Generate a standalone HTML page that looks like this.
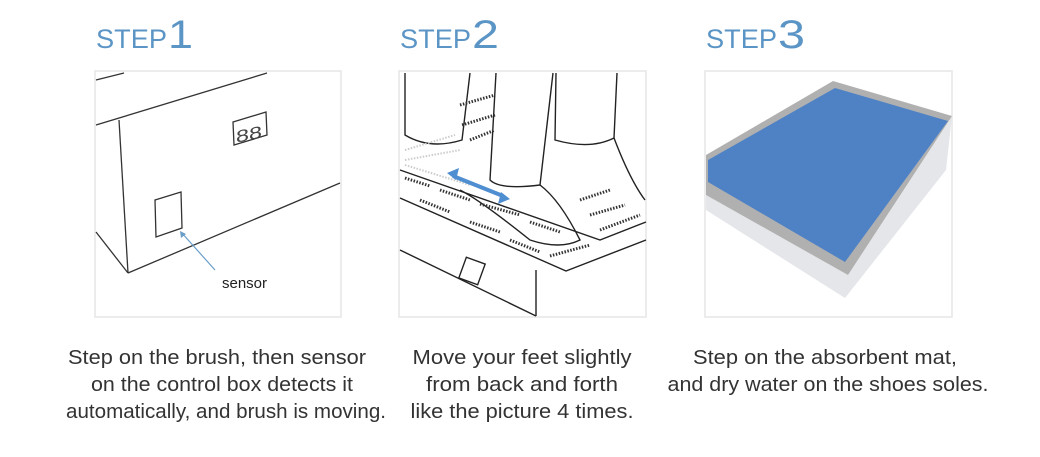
<!DOCTYPE html>
<html><head><meta charset="utf-8"><style>
html,body{margin:0;padding:0;background:#fff;}
svg{display:block}
text{font-family:"Liberation Sans",sans-serif;}
</style></head><body>
<svg width="1040" height="457" viewBox="0 0 1040 457" xmlns="http://www.w3.org/2000/svg">
<rect width="1040" height="457" fill="#fff"/>
<g fill="#5b95c6">
<text x="96" y="48" font-size="27" textLength="71" lengthAdjust="spacingAndGlyphs">STEP</text>
<text x="168" y="48" font-size="40" textLength="25" lengthAdjust="spacingAndGlyphs">1</text>
<text x="400" y="48" font-size="27" textLength="71" lengthAdjust="spacingAndGlyphs">STEP</text>
<text x="472" y="48" font-size="40" textLength="27" lengthAdjust="spacingAndGlyphs">2</text>
<text x="706" y="48" font-size="27" textLength="71" lengthAdjust="spacingAndGlyphs">STEP</text>
<text x="778" y="48" font-size="40" textLength="27" lengthAdjust="spacingAndGlyphs">3</text>
</g>
<g fill="none" stroke="#e6e6e6" stroke-width="1.5">
<rect x="95" y="71" width="246" height="246"/>
<rect x="399" y="71" width="247" height="246"/>
<rect x="705" y="71" width="247" height="246"/>
</g>
<!-- step1 -->
<g fill="none" stroke="#333" stroke-width="1.3">
<path d="M96 80 L124 73"/>
<path d="M96 125 L267 73"/>
<path d="M119 120 L128 273"/>
<path d="M128 273 L340 183"/>
<path d="M96 232 L128 273"/>
<path d="M233 122 L266 112 L267 135 L234 145 Z"/>
<path d="M155 200 L181 192 L182 228 L156 237 Z"/>
</g>
<text x="236" y="141" font-size="17" fill="#444" font-family="Liberation Mono,monospace" transform="skewY(-12) translate(0 52)" textLength="26" lengthAdjust="spacingAndGlyphs">88</text>
<path d="M181 232 L215 270" stroke="#6a9ec9" stroke-width="1.2"/>
<path d="M180 231 l1 7 l5 -4 z" fill="#6a9ec9"/>
<text x="222" y="288" font-size="15" fill="#222">sensor</text>
<!-- step2 -->
<g fill="none" stroke="#222" stroke-width="1.4">
<path d="M400 170 L600 240 L646 222"/>
<path d="M400 198 L566 271 L646 240"/>
<path d="M400 250 L536 316"/>
<path d="M536 270 L536 316"/>
<path d="M405 73 L405 135 Q430 150 462 140 L470 73"/>
<path d="M496 73 L490 180 Q500 190 540 185 L553 73"/>
<path d="M540 185 Q560 200 580 240 Q560 250 530 240 Q480 200 460 190"/>
<path d="M556 73 L555 140 Q590 150 614 138 L617 73"/>
<path d="M614 138 Q630 180 645 200"/>
<rect x="462" y="260" width="20" height="22" transform="rotate(20 472 271)"/>
</g>
<g stroke="#333" stroke-width="3" stroke-dasharray="1.5 1.5" fill="none">
<path d="M405 178 L430 186 M440 190 L470 200 M480 204 L520 215 M530 222 L560 232"/>
<path d="M420 200 L450 212 M470 222 L500 232 M510 240 L540 252 M550 256 L590 245"/>
<path d="M460 105 L495 95 M462 125 L495 115 M470 140 L495 130"/>
<path d="M580 200 L610 190 M590 215 L625 205 M600 230 L640 215"/>
</g>
<g stroke="#ccc" stroke-width="2" stroke-dasharray="1.5 1.5" fill="none">
<path d="M405 150 L455 135 M405 160 L460 150 M405 165 L470 185"/>
</g>
<path d="M453 176 L503 196" stroke="#4f8ed0" stroke-width="4"/>
<path d="M447 173 l12 -5 l-3 12 z M510 199 l-12 5 l3 -12 z" fill="#4f8ed0"/>
<!-- step3 mat -->
<polygon points="706,195 848,275 952,116 946,170 845,298 706,210" fill="#e4e6ea"/>
<polygon points="706,155 833,81 952,116 848,275 706,195" fill="#b0b0b0"/>
<polygon points="708,160 835,88 948,121 845,262 708,182" fill="#4f82c4"/>
<g fill="#333" font-size="20" text-anchor="middle">
<text x="217" y="364" textLength="298" lengthAdjust="spacingAndGlyphs">Step on the brush, then sensor</text>
<text x="222" y="391" textLength="262" lengthAdjust="spacingAndGlyphs">on the control box detects it</text>
<text x="226" y="418" textLength="320" lengthAdjust="spacingAndGlyphs">automatically, and brush is moving.</text>
<text x="522" y="364" textLength="219" lengthAdjust="spacingAndGlyphs">Move your feet slightly</text>
<text x="522" y="391" textLength="192" lengthAdjust="spacingAndGlyphs">from back and forth</text>
<text x="522" y="418" textLength="223" lengthAdjust="spacingAndGlyphs">like the picture 4 times.</text>
<text x="825" y="364" textLength="264" lengthAdjust="spacingAndGlyphs">Step on the absorbent mat,</text>
<text x="828" y="391" textLength="321" lengthAdjust="spacingAndGlyphs">and dry water on the shoes soles.</text>
</g>
</svg>
</body></html>
